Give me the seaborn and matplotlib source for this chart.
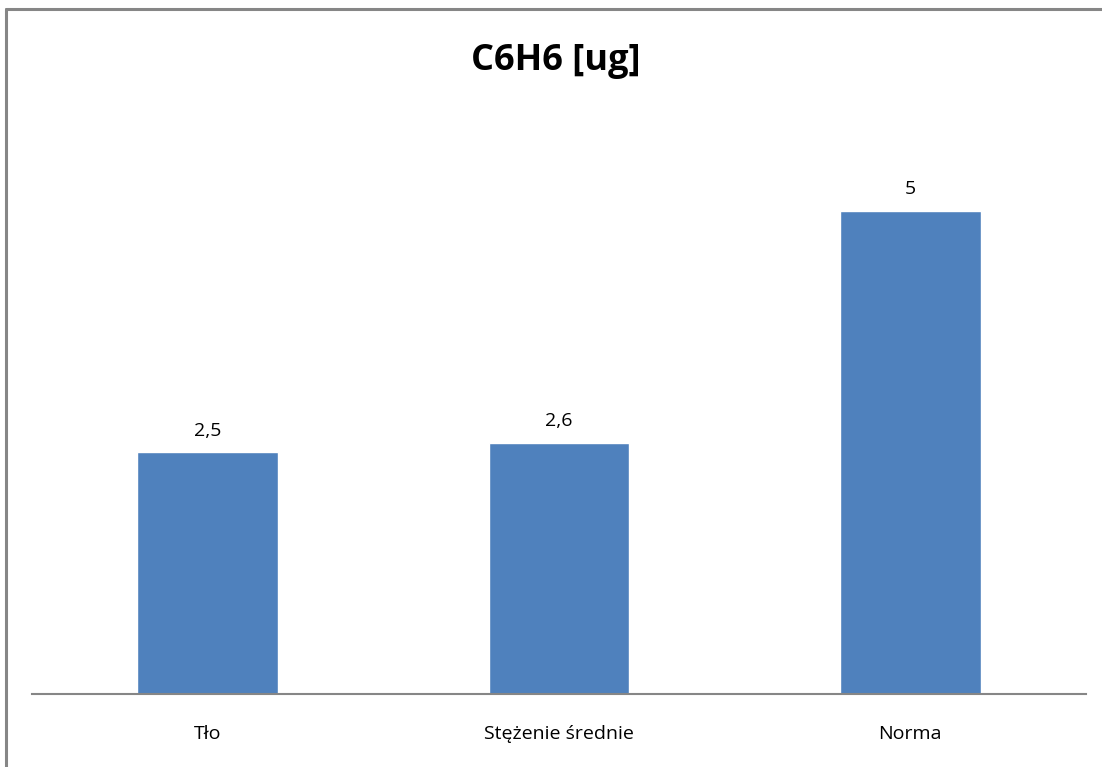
import matplotlib
matplotlib.use("Agg")
import matplotlib.pyplot as plt
import seaborn as sns
import pandas as pd
from matplotlib.lines import Line2D

categories = ["Tło", "Stężenie średnie", "Norma"]
values = [2.5, 2.6, 5]
value_labels = ["2,5", "2,6", "5"]

sns.set_theme(style="white")
plt.rcParams["font.family"] = ["Open Sans", "DejaVu Sans"]

W, H = 1102, 767
fig = plt.figure(figsize=(W / 100, H / 100), dpi=100)
fig.patch.set_facecolor("white")
ax = fig.add_axes([32 / W, (H - 694) / H, (1086 - 32) / W, (694 - 114) / H])

df = pd.DataFrame({"cat": categories, "val": values})
sns.barplot(data=df, x="cat", y="val", color="#4F81BD", saturation=1,
            width=0.4, ax=ax)

ax.set_ylim(0, 6)
ax.set_xlim(-0.5, 2.5)
ax.set_xlabel("")
ax.set_ylabel("")
ax.set_yticks([])
for s in ["top", "right", "left"]:
    ax.spines[s].set_visible(False)
ax.spines["bottom"].set_color("#868686")
ax.spines["bottom"].set_linewidth(1.5)
ax.tick_params(axis="x", length=0, pad=22, labelsize=14, labelcolor="#000000")

for i, (v, lab) in enumerate(zip(values, value_labels)):
    ax.annotate(lab, (i, v), xytext=(0, 9), textcoords="offset points",
                ha="center", va="bottom", fontsize=14, color="#000000")

fig.text(556 / W, 1 - 61 / H, "C6H6 [ug]", ha="center", va="center",
         fontsize=26, fontweight="bold", color="#000000")

# outer frame of the chart area
fig.add_artist(Line2D([5.5 / W, 1], [1 - 9 / H, 1 - 9 / H], transform=fig.transFigure,
                      color="#868686", linewidth=2.2))
fig.add_artist(Line2D([5.5 / W, 5.5 / W], [0, 1 - 9 / H], transform=fig.transFigure,
                      color="#868686", linewidth=2.2))

fig.savefig("out.png", dpi=100, facecolor="white")
